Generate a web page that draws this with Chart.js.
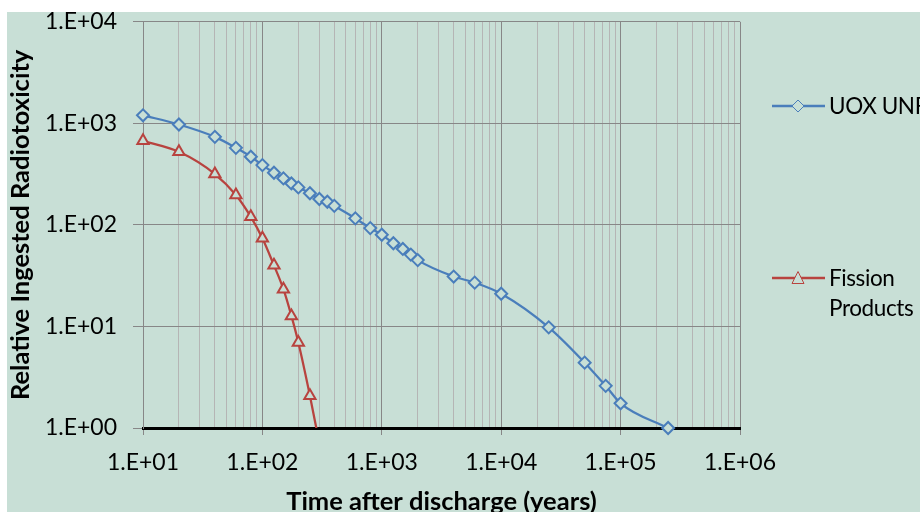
<!DOCTYPE html>
<html>
<head>
<meta charset="utf-8">
<script src="https://cdn.jsdelivr.net/npm/chart.js@4"></script>
<style>
    body { margin: 0; background: #fff; width: 920px; height: 512px; overflow: hidden; position: relative; font-family: Lato, sans-serif; }
    #wrap { position: absolute; left: 7px; top: 12px; width: 913px; height: 500px; background: #c8dfd6; overflow: hidden; }
    #wrap canvas { position: absolute; left: 0; top: -20px; }
    .leg { position: absolute; font: 22.5px Lato, sans-serif; line-height: 30px; color: #000; white-space: nowrap; letter-spacing: -0.4px; }
    .sym { position: absolute; }
</style>
</head>
<body>
<div id="wrap"><canvas id="radCanvas" width="913" height="539"></canvas></div>
<script>
// time after discharge (years)
var uoxYears = [10, 20, 40, 60, 80, 100, 125, 150, 175, 200, 250, 300, 350, 400, 600, 800,
    1000, 1250, 1500, 1750, 2000, 4000, 6000, 10000, 25000, 50000, 75000, 100000, 250000];
var uoxTox = [1200, 975, 736, 574, 469, 388, 326, 287, 256, 234, 205, 180, 169, 154, 116, 93,
    80, 66, 58, 51, 45, 31, 27, 21, 9.8, 4.4, 2.6, 1.75, 1.0];

var fpYears = [10, 20, 40, 60, 80, 100, 125, 150, 175, 200, 250, 300];
var fpTox = [673, 525, 317, 197, 120, 74, 40, 23.3, 12.7, 6.95, 2.08, 0.7];

var xTickLabels = ['1.E+01', '1.E+02', '1.E+03', '1.E+04', '1.E+05', '1.E+06'];
var yTickLabels = ['1.E+00', '1.E+01', '1.E+02', '1.E+03', '1.E+04'];

var seriesNames = ['UOX UNF', ['Fission', 'Products']];

var radChart = (function () {
    var mod = {};

    var bg = '#c8dfd6';
    var blue = '#4a7ebb';
    var red = '#b8433f';
    var majorGrid = '#878787';
    var minorGrid = '#b5b5b5';
    var font = 'Lato, sans-serif';

    function isDecade(v) {
        var l = Math.log10(v);
        return Math.abs(l - Math.round(l)) < 1e-9;
    }

    function toPoints(xs, ys) {
        return xs.map(function (x, i) { return { x: x, y: ys[i] }; });
    }

    mod.drawLegend = function (chart) {
        var tops = [91, 263];
        chart.data.datasets.forEach(function (ds, i) {
            var sym = document.createElement('canvas');
            sym.className = 'sym';
            sym.width = 56;
            sym.height = 16;
            sym.style.left = '771px';
            sym.style.top = (tops[i] + 15 - 8) + 'px';
            var c = sym.getContext('2d');
            c.strokeStyle = ds.borderColor;
            c.lineWidth = 2.5;
            c.beginPath();
            c.moveTo(1, 8);
            c.lineTo(54, 8);
            c.stroke();
            c.fillStyle = bg;
            c.lineWidth = 1;
            c.beginPath();
            if (ds.pointStyle === 'rectRot') {
                c.moveTo(27, 2); c.lineTo(33, 8); c.lineTo(27, 14); c.lineTo(21, 8);
            } else {
                c.moveTo(27, 1.5); c.lineTo(33, 13.5); c.lineTo(21, 13.5);
            }
            c.closePath();
            c.fill();
            c.stroke();
            document.body.appendChild(sym);

            var txt = document.createElement('div');
            txt.className = 'leg';
            txt.style.left = '829px';
            txt.style.top = tops[i] + 'px';
            txt.innerHTML = [].concat(ds.label).join('<br>');
            document.body.appendChild(txt);
        });
    };

    mod.render = function () {
        var ctx = document.getElementById('radCanvas');

        var chart = new Chart(ctx, {
            type: 'line',
            data: {
                datasets: [
                    {
                        label: seriesNames[0],
                        data: toPoints(uoxYears, uoxTox),
                        borderColor: blue,
                        backgroundColor: bg,
                        borderWidth: 2.25,
                        pointStyle: 'rectRot',
                        pointRadius: 6,
                        pointBorderWidth: 2,
                        pointBackgroundColor: bg,
                        pointBorderColor: blue,
                        cubicInterpolationMode: 'monotone',
                        clip: false
                    },
                    {
                        label: seriesNames[1],
                        data: toPoints(fpYears, fpTox),
                        borderColor: red,
                        backgroundColor: bg,
                        borderWidth: 2.25,
                        pointStyle: 'triangle',
                        pointRadius: 6.5,
                        pointBorderWidth: 2,
                        pointBackgroundColor: bg,
                        pointBorderColor: red,
                        cubicInterpolationMode: 'monotone',
                        clip: { left: false, top: false, right: false, bottom: 0 }
                    }
                ]
            },
            options: {
                responsive: false,
                animation: false,
                layout: { padding: { left: 0, right: 180, top: 0, bottom: 0 } },
                plugins: {
                    legend: { display: false },
                    tooltip: { enabled: false }
                },
                scales: {
                    x: {
                        type: 'logarithmic',
                        min: 10,
                        max: 1000000,
                        afterBuildTicks: function (scale) {
                            var t = [];
                            for (var e = 1; e < 6; e++) {
                                for (var m = 1; m < 10; m++) {
                                    t.push({ value: m * Math.pow(10, e) });
                                }
                            }
                            t.push({ value: 1000000 });
                            scale.ticks = t;
                        },
                        afterFit: function (scale) { scale.height = 103; },
                        ticks: {
                            autoSkip: false,
                            maxRotation: 0,
                            minRotation: 0,
                            padding: 14,
                            color: '#000',
                            font: { family: font, size: 23 },
                            callback: function (v) {
                                if (!isDecade(v)) return '';
                                return xTickLabels[Math.round(Math.log10(v)) - 1];
                            }
                        },
                        grid: {
                            color: function (c) {
                                return c.tick && isDecade(c.tick.value) ? majorGrid : minorGrid;
                            },
                            tickColor: function (c) {
                                return c.tick && isDecade(c.tick.value) ? majorGrid : 'rgba(0,0,0,0)';
                            },
                            tickLength: 7,
                            lineWidth: 1
                        },
                        border: { color: '#000', width: 3 },
                        title: {
                            display: true,
                            text: 'Time after discharge (years)',
                            color: '#000',
                            font: { family: font, size: 25.5, weight: 'bold' },
                            padding: { top: 0, bottom: 14 }
                        }
                    },
                    y: {
                        type: 'logarithmic',
                        min: 1,
                        max: 10000,
                        afterBuildTicks: function (scale) {
                            scale.ticks = scale.ticks.filter(function (t) { return isDecade(t.value); });
                        },
                        afterFit: function (scale) { scale.width = 136; },
                        ticks: {
                            padding: 16,
                            color: '#000',
                            font: { family: font, size: 23 },
                            callback: function (v) {
                                return yTickLabels[Math.round(Math.log10(v))];
                            }
                        },
                        grid: {
                            color: majorGrid,
                            tickColor: majorGrid,
                            tickLength: 10,
                            lineWidth: 1
                        },
                        border: { color: majorGrid, width: 1 },
                        title: {
                            display: true,
                            text: 'Relative Ingested Radiotoxicity',
                            color: '#000',
                            font: { family: font, size: 25.5, weight: 'bold', lineHeight: 1.05 },
                            padding: { top: 0, bottom: 0 }
                        }
                    }
                }
            }
        });

        mod.drawLegend(chart);
        return chart;
    };

    return mod;
}());

radChart.render();
</script>
</body>
</html>
